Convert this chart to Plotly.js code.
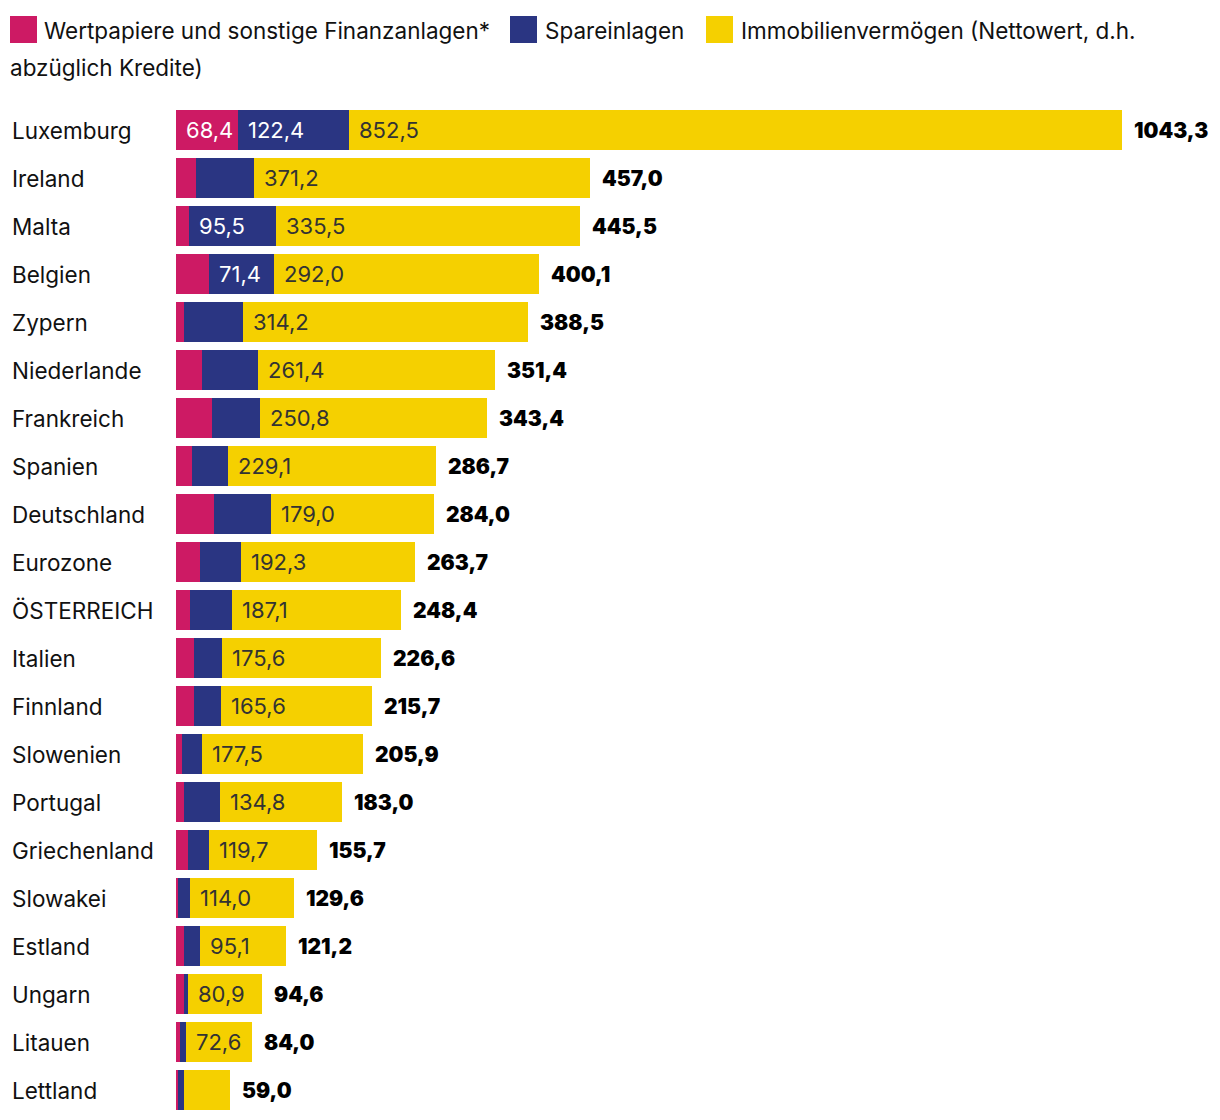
<!DOCTYPE html>
<html>
<head>
<meta charset="utf-8">
<script src="https://cdn.plot.ly/plotly-3.0.1.min.js"></script>
<style>
html,body{margin:0;padding:0;background:#fff;}
#chart{width:1220px;height:1120px;}
</style>
</head>
<body>
<div id="chart"></div>
<script>
// ---- data ----
const countries = ["Luxemburg","Ireland","Malta","Belgien","Zypern","Niederlande","Frankreich","Spanien","Deutschland","Eurozone","ÖSTERREICH","Italien","Finnland","Slowenien","Portugal","Griechenland","Slowakei","Estland","Ungarn","Litauen","Lettland"];
const wertpapiere = [68.4,22.0,14.5,36.7,8.8,28.7,39.7,17.6,41.9,26.5,15.4,19.9,19.9,6.6,8.8,13.2,2.2,8.8,8.8,4.6,2.2];
const spareinlagen = [122.4,63.8,95.5,71.4,65.5,61.3,52.9,40.0,63.1,44.9,45.9,31.1,30.2,21.8,39.4,22.8,13.4,17.3,4.9,6.8,6.6];
const immobilien = [852.5,371.2,335.5,292.0,314.2,261.4,250.8,229.1,179.0,192.3,187.1,175.6,165.6,177.5,134.8,119.7,114.0,95.1,80.9,72.6,50.2];
const totals = [1043.3,457.0,445.5,400.1,388.5,351.4,343.4,286.7,284.0,263.7,248.4,226.6,215.7,205.9,183.0,155.7,129.6,121.2,94.6,84.0,59.0];
const seriesNames = ["Wertpapiere und sonstige Finanzanlagen*","Spareinlagen","Immobilienvermögen (Nettowert, d.h.","abzüglich Kredite)"];

// ---- style ----
const PINK = "#CD1A64", BLUE = "#2A3582", YELLOW = "#F5D000";
const FONT = "Inter, Roboto, 'Liberation Sans', sans-serif";
const FS_LABEL = 22.5, FS_VAL = 22, FS_TOT = 21;
const W = 1220, H = 1120;
const M = {l:176, r:0, t:106, b:6};
const PW = W - M.l - M.r, PH = H - M.t - M.b;
const XMAX = 1151.4;
const LABEL_MIN = 66;

const px2x = p => (p - M.l) / PW;
const py2y = p => 1 - (p - M.t) / PH;
const fmt = v => v.toFixed(1).replace('.', ',');

const traces = [
  {name: seriesNames[0], x: wertpapiere, color: PINK},
  {name: seriesNames[1], x: spareinlagen, color: BLUE},
  {name: seriesNames[2], x: immobilien, color: YELLOW}
].map(s => ({
  type: 'bar', orientation: 'h', x: s.x, y: countries, name: s.name,
  marker: {color: s.color, line: {width: 0}}, hoverinfo: 'skip', showlegend: false
}));

const annotations = [];
const segs = [
  {vals: wertpapiere, color: '#ffffff'},
  {vals: spareinlagen, color: '#ffffff'},
  {vals: immobilien, color: '#333333'}
];
countries.forEach((c, i) => {
  let base = 0;
  segs.forEach(s => {
    const v = s.vals[i];
    if (v >= LABEL_MIN) {
      annotations.push({x: base, y: c, xref: 'x', yref: 'y', text: fmt(v), showarrow: false,
        xanchor: 'left', yanchor: 'middle', xshift: 8,
        font: {family: FONT, size: FS_VAL, color: s.color}});
    }
    base += v;
  });
  annotations.push({x: base, y: c, xref: 'x', yref: 'y', text: fmt(totals[i]), showarrow: false,
    xanchor: 'left', yanchor: 'middle', xshift: 10,
    font: {family: FONT, size: FS_TOT, color: '#000', weight: 900}});
  annotations.push({x: px2x(10), y: c, xref: 'paper', yref: 'y', text: c, showarrow: false,
    xanchor: 'left', yanchor: 'middle',
    font: {family: FONT, size: FS_LABEL, color: '#111'}});
});

// legend (custom, wrapped like reference)
const legendItems = [
  {sx: 10, tx: 42, color: PINK, text: seriesNames[0]},
  {sx: 510, tx: 543, color: BLUE, text: seriesNames[1]},
  {sx: 706, tx: 739, color: YELLOW, text: seriesNames[2]}
];
const shapes = [];
legendItems.forEach(it => {
  shapes.push({type: 'rect', xref: 'paper', yref: 'paper', x0: px2x(it.sx), x1: px2x(it.sx + 27),
    y0: py2y(43), y1: py2y(16), fillcolor: it.color, line: {width: 0}});
  annotations.push({x: px2x(it.tx), y: py2y(30), xref: 'paper', yref: 'paper', text: it.text,
    showarrow: false, xanchor: 'left', yanchor: 'middle', font: {family: FONT, size: FS_LABEL, color: '#111'}});
});
annotations.push({x: px2x(8), y: py2y(68), xref: 'paper', yref: 'paper', text: seriesNames[3],
  showarrow: false, xanchor: 'left', yanchor: 'middle', font: {family: FONT, size: FS_LABEL, color: '#111'}});

const layout = {
  width: W, height: H, margin: M, barmode: 'stack', bargap: 8/48,
  paper_bgcolor: '#fff', plot_bgcolor: '#fff', showlegend: false,
  xaxis: {range: [0, XMAX], visible: false, fixedrange: true},
  yaxis: {type: 'category', range: [countries.length - 0.5, -0.5], visible: false, fixedrange: true},
  annotations: annotations, shapes: shapes,
  font: {family: FONT}
};
Plotly.newPlot('chart', traces, layout, {displayModeBar: false, staticPlot: true});
</script>
</body>
</html>
